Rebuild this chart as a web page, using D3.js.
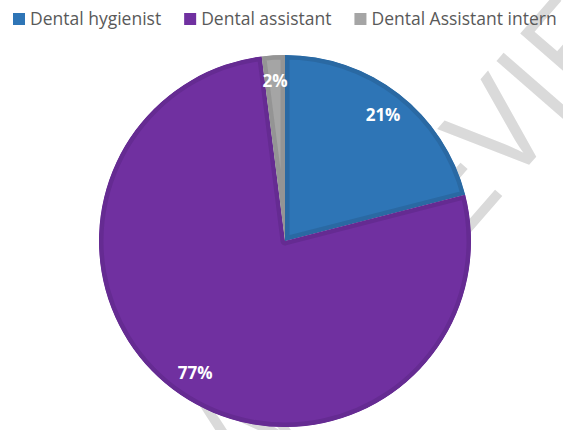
<!DOCTYPE html>
<html>
<head>
<meta charset="utf-8">
<script src="https://cdn.jsdelivr.net/npm/d3@7"></script>
<style>
  html, body { margin: 0; padding: 0; background: #fff; }
  svg { display: block; }
</style>
</head>
<body>
<svg id="chart" width="563" height="430"></svg>
<script>
// Staff mix by role
const categories = ["Dental hygienist", "Dental assistant", "Dental Assistant intern"];
const shares = [21, 77, 2];
const sliceColors = ["#2E75B6", "#7030A0", "#A5A5A5"];
const edgeColors = ["#2A69A3", "#652B92", "#949494"];
const shareLabels = ["21%", "77%", "2%"];

const width = 563, height = 430;
const cx = 285, cy = 241, radius = 186;

const svg = d3.select("#chart");

// Background watermark, drawn beneath the pie
const markFont = "'Open Sans', 'DejaVu Sans', sans-serif";
const markTransform = "translate(356,364) rotate(-49)";
svg.append("text")
  .attr("transform", markTransform)
  .attr("font-family", markFont)
  .attr("font-weight", 400)
  .attr("font-size", 130)
  .attr("fill", "#dadada")
  .text("PREVIEW");

svg.append("text")
  .attr("transform", markTransform)
  .attr("font-family", markFont)
  .attr("font-weight", 400)
  .attr("font-size", 130)
  .attr("fill", "#dadada")
  .attr("text-anchor", "end")
  .text("PREVIEW\u00a0\u00a0");

const pie = d3.pie().sort(null).value(d => d)(shares);
const arc = d3.arc().innerRadius(0).outerRadius(radius);
const labelArc = d3.arc().innerRadius(radius * 0.86).outerRadius(radius * 0.86);

const g = svg.append("g").attr("transform", `translate(${cx},${cy})`);
const defs = svg.append("defs");

pie.forEach((d, i) => {
  defs.append("clipPath").attr("id", "slice-clip-" + i)
    .append("path").attr("d", arc(d));
});

// Slices with an inner darker rim
g.selectAll("path.slice")
  .data(pie)
  .join("path")
  .attr("class", "slice")
  .attr("d", arc)
  .attr("fill", (d, i) => sliceColors[i])
  .attr("stroke", (d, i) => edgeColors[i])
  .attr("stroke-width", 9)
  .attr("stroke-linejoin", "round")
  .attr("clip-path", (d, i) => `url(#slice-clip-${i})`);

// Percentage labels
g.selectAll("text.pct")
  .data(pie)
  .join("text")
  .attr("class", "pct")
  .attr("transform", d => `translate(${labelArc.centroid(d)})`)
  .attr("text-anchor", "middle")
  .attr("dy", "0.35em")
  .attr("font-family", "'Open Sans', 'DejaVu Sans', sans-serif")
  .attr("font-weight", 700)
  .attr("font-size", 17)
  .attr("fill", "#ffffff")
  .text((d, i) => shareLabels[i]);

// Legend across the top
const legend = svg.append("g").attr("transform", "translate(13,19)");
let x = 0;
categories.forEach((name, i) => {
  const item = legend.append("g").attr("transform", `translate(${x},0)`);
  item.append("rect")
    .attr("x", 0).attr("y", -6).attr("width", 12).attr("height", 12)
    .attr("fill", sliceColors[i]);
  const t = item.append("text")
    .attr("x", 17).attr("y", 0).attr("dy", "0.36em")
    .attr("font-family", "'Open Sans', 'DejaVu Sans', sans-serif")
    .attr("font-size", 17.5)
    .attr("fill", "#595959")
    .text(name);
  x += 17 + t.node().getComputedTextLength() + 23;
});
</script>
</body>
</html>
